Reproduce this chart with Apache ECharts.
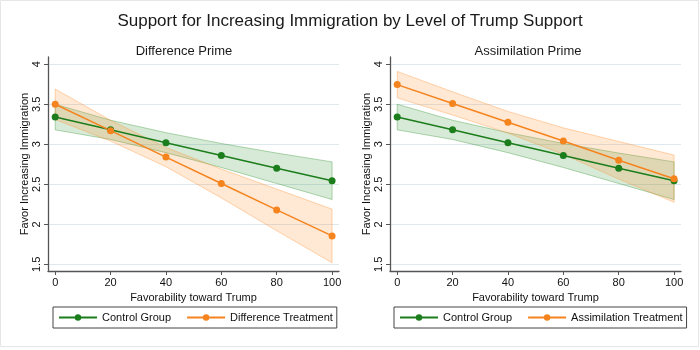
<!DOCTYPE html>
<html lang="en">
<head>
<meta charset="UTF-8">
<title>Support for Increasing Immigration by Level of Trump Support</title>
<style>
  html, body { margin: 0; padding: 0; background: #fff; }
  #chart { width: 700px; height: 350px; }
</style>
</head>
<body>
<div id="chart"></div>
<script src="https://cdn.jsdelivr.net/npm/echarts@6/dist/echarts.min.js"></script>
<script>
// favorability toward Trump (x) and tick labels
var favor = [0, 20, 40, 60, 80, 100];
var xTicks = [0, 20, 40, 60, 80, 100];
var yTicks = [1.5, 2, 2.5, 3, 3.5, 4];

// control group (same in both panels)
var controlMean = [3.34, 3.18, 3.02, 2.86, 2.70, 2.545];
var controlLo   = [3.18, 3.06, 2.895, 2.71, 2.51, 2.31];
var controlHi   = [3.50, 3.30, 3.145, 3.01, 2.89, 2.78];

// difference treatment
var diffMean = [3.50, 3.17, 2.84, 2.51, 2.18, 1.855];
var diffLo   = [3.31, 3.04, 2.72, 2.33, 1.92, 1.52];
var diffHi   = [3.69, 3.30, 2.96, 2.69, 2.44, 2.19];

// assimilation treatment
var assimMean = [3.745, 3.51, 3.275, 3.04, 2.80, 2.57];
var assimLo   = [3.58, 3.365, 3.14, 2.875, 2.565, 2.275];
var assimHi   = [3.91, 3.655, 3.41, 3.205, 3.035, 2.865];

var green = '#1b7d1b';
var orange = '#f5841f';
var font = 'Liberation Sans, Arial, Helvetica, sans-serif';

function pts(ys) {
    return favor.map(function (x, i) { return [x, ys[i]]; });
}

// confidence band as one polygon
function bandSeries(idx, lo, hi, fill, edge) {
    return {
        type: 'custom',
        xAxisIndex: idx,
        yAxisIndex: idx,
        silent: true,
        z: 1,
        data: favor.map(function (x, i) { return [x, lo[i], hi[i]]; }),
        encode: { x: 0, y: [1, 2] },
        renderItem: function (params, api) {
            if (params.dataIndexInside !== 0) return;
            var up = [], down = [];
            for (var i = 0; i < favor.length; i++) {
                up.push(api.coord([favor[i], hi[i]]));
                down.unshift(api.coord([favor[i], lo[i]]));
            }
            return {
                type: 'polygon',
                shape: { points: up.concat(down) },
                style: { fill: fill, stroke: edge, lineWidth: 1 }
            };
        }
    };
}

function lineSeries(name, idx, ys, color) {
    return {
        name: name,
        type: 'line',
        xAxisIndex: idx,
        yAxisIndex: idx,
        data: pts(ys),
        symbol: 'circle',
        symbolSize: 7,
        z: 3,
        itemStyle: { color: color },
        lineStyle: { color: color, width: 1.5 },
        emphasis: { disabled: true }
    };
}

// horizontal grid lines at the y ticks
function gridLines(idx) {
    return {
        type: 'line',
        xAxisIndex: idx,
        yAxisIndex: idx,
        data: [],
        silent: true,
        z: 0,
        markLine: {
            z: 0,
            silent: true,
            symbol: 'none',
            animation: false,
            label: { show: false },
            lineStyle: { color: '#dde8ef', width: 1, type: 'solid' },
            data: yTicks.map(function (v) { return { yAxis: v }; })
        }
    };
}

function xAxis(idx) {
    return {
        type: 'value', gridIndex: idx, min: -2.6, max: 102.5,
        name: 'Favorability toward Trump', nameLocation: 'middle', nameGap: 19,
        nameTextStyle: { fontSize: 11, color: '#111' },
        axisLine: { show: true, onZero: false, lineStyle: { color: '#555', width: 1.3 } },
        axisTick: { show: true, length: 4, customValues: xTicks, lineStyle: { color: '#555' } },
        axisLabel: { customValues: xTicks, fontSize: 11, color: '#111', margin: 6 },
        splitLine: { show: false }
    };
}

function yAxis(idx) {
    return {
        type: 'value', gridIndex: idx, min: 1.417, max: 4.09,
        name: 'Favor Increasing Immigration', nameLocation: 'middle', nameGap: 16,
        nameTextStyle: { fontSize: 11, color: '#111' },
        axisLine: { show: true, onZero: false, lineStyle: { color: '#555', width: 1.3 } },
        axisTick: { show: true, length: 4, customValues: yTicks, lineStyle: { color: '#555' } },
        axisLabel: { customValues: yTicks, rotate: 90, fontSize: 11, color: '#111', margin: 6 },
        splitLine: { show: false }
    };
}

function legend(left, names) {
    return {
        data: names, left: left, top: 307,
        orient: 'horizontal',
        itemWidth: 38, itemHeight: 8, itemGap: 15,
        padding: [5, 4, 5, 5],
        borderColor: '#444', borderWidth: 1,
        selectedMode: false,
        textStyle: { fontSize: 11, color: '#111', fontFamily: font }
    };
}

var chart = echarts.init(document.getElementById('chart'));
chart.setOption({
    animation: false,
    backgroundColor: '#fff',
    textStyle: { fontFamily: font },
    title: [
        { text: 'Support for Increasing Immigration by Level of Trump Support', left: 'center', top: 8,
          textStyle: { fontSize: 17, fontWeight: 'normal', color: '#1a1a1a' } },
        { text: 'Difference Prime', left: 179, textAlign: 'center', top: 40,
          textStyle: { fontSize: 13, fontWeight: 'normal', color: '#1a1a1a' } },
        { text: 'Assimilation Prime', left: 523, textAlign: 'center', top: 40,
          textStyle: { fontSize: 13, fontWeight: 'normal', color: '#1a1a1a' } }
    ],
    grid: [
        { left: 48, top: 57, width: 291, height: 214 },
        { left: 390, top: 57, width: 291, height: 214 }
    ],
    xAxis: [xAxis(0), xAxis(1)],
    yAxis: [yAxis(0), yAxis(1)],
    legend: [
        legend(53, ['Control Group', 'Difference Treatment']),
        legend(394, ['Control Group', 'Assimilation Treatment'])
    ],
    graphic: [{
        type: 'rect', silent: true,
        shape: { x: 0.5, y: 0.5, width: 698, height: 346 },
        style: { fill: null, stroke: '#e6e6e6', lineWidth: 1 }
    }],
    series: [
        gridLines(0),
        gridLines(1),
        bandSeries(0, controlLo, controlHi, 'rgba(34,139,34,0.18)', 'rgba(34,139,34,0.35)'),
        bandSeries(0, diffLo, diffHi, 'rgba(255,140,40,0.2)', 'rgba(255,140,40,0.35)'),
        bandSeries(1, controlLo, controlHi, 'rgba(34,139,34,0.18)', 'rgba(34,139,34,0.35)'),
        bandSeries(1, assimLo, assimHi, 'rgba(255,140,40,0.2)', 'rgba(255,140,40,0.35)'),
        lineSeries('Control Group', 0, controlMean, green),
        lineSeries('Difference Treatment', 0, diffMean, orange),
        lineSeries('Control Group', 1, controlMean, green),
        lineSeries('Assimilation Treatment', 1, assimMean, orange)
    ]
});
</script>
</body>
</html>
